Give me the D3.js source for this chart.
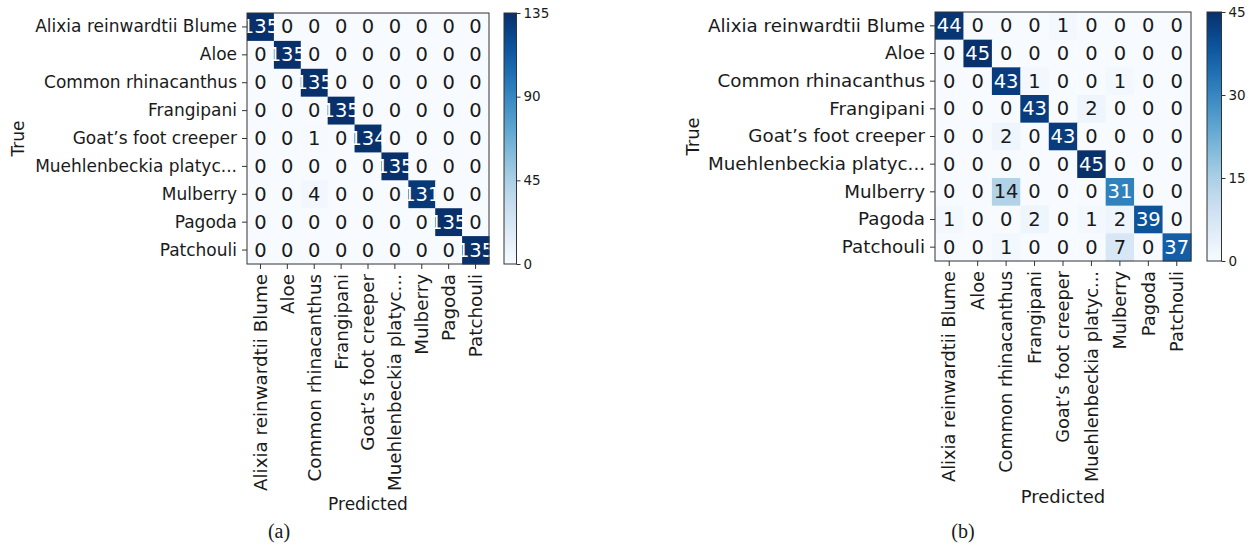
<!DOCTYPE html>
<html>
<head>
<meta charset="utf-8">
<script src="https://cdn.jsdelivr.net/npm/d3@7"></script>
<style>
  html, body { margin: 0; padding: 0; background: #ffffff; }
  svg { display: block; }
  text { font-family: "DejaVu Sans", sans-serif; fill: #1a1a1a; }
</style>
</head>
<body>
<svg id="chart" width="1249" height="544"></svg>
<script>
// Class names shown on both axes
const classLabels = [
  "Alixia reinwardtii Blume",
  "Aloe",
  "Common rhinacanthus",
  "Frangipani",
  "Goat\u2019s foot creeper",
  "Muehlenbeckia platyc...",
  "Mulberry",
  "Pagoda",
  "Patchouli"
];

// Confusion matrix (a): rows = true class, columns = predicted class
const matrixA = [
  [135, 0, 0, 0, 0, 0, 0, 0, 0],
  [0, 135, 0, 0, 0, 0, 0, 0, 0],
  [0, 0, 135, 0, 0, 0, 0, 0, 0],
  [0, 0, 0, 135, 0, 0, 0, 0, 0],
  [0, 0, 1, 0, 134, 0, 0, 0, 0],
  [0, 0, 0, 0, 0, 135, 0, 0, 0],
  [0, 0, 4, 0, 0, 0, 131, 0, 0],
  [0, 0, 0, 0, 0, 0, 0, 135, 0],
  [0, 0, 0, 0, 0, 0, 0, 0, 135]
];

// Confusion matrix (b)
const matrixB = [
  [44, 0, 0, 0, 1, 0, 0, 0, 0],
  [0, 45, 0, 0, 0, 0, 0, 0, 0],
  [0, 0, 43, 1, 0, 0, 1, 0, 0],
  [0, 0, 0, 43, 0, 2, 0, 0, 0],
  [0, 0, 2, 0, 43, 0, 0, 0, 0],
  [0, 0, 0, 0, 0, 45, 0, 0, 0],
  [0, 0, 14, 0, 0, 0, 31, 0, 0],
  [1, 0, 0, 2, 0, 1, 2, 39, 0],
  [0, 0, 1, 0, 0, 0, 7, 0, 37]
];

// Colour bar ranges and ticks
const maxA = 135;
const ticksA = [0, 45, 90, 135];
const maxB = 45;
const ticksB = [0, 15, 30, 45];

const xTitle = "Predicted";
const yTitle = "True";
const captions = ["(a)", "(b)"];

const svg = d3.select("#chart");
const axisColor = "#333333";

function drawPanel(cfg) {
  const g = svg.append("g");
  const n = classLabels.length;
  const idx = d3.range(n);

  const x = d3.scaleBand().domain(idx).range([cfg.left, cfg.right]).padding(0);
  const y = d3.scaleBand().domain(idx).range([cfg.top, cfg.bottom]).padding(0);
  const color = d3.scaleSequential(d3.interpolateBlues).domain([0, cfg.vmax]);

  const cells = [];
  cfg.matrix.forEach((row, r) => row.forEach((v, c) => cells.push({ r, c, v })));

  // Heatmap cells
  g.append("g").selectAll("rect").data(cells).join("rect")
    .attr("x", d => x(d.c))
    .attr("y", d => y(d.r))
    .attr("width", x.bandwidth() + 0.5)
    .attr("height", y.bandwidth() + 0.5)
    .attr("fill", d => color(d.v));

  // Cell counts (white on dark cells)
  g.append("g").selectAll("text").data(cells).join("text")
    .attr("x", d => x(d.c) + x.bandwidth() / 2)
    .attr("y", d => y(d.r) + y.bandwidth() / 2)
    .attr("text-anchor", "middle")
    .attr("dominant-baseline", "central")
    .style("font-size", cfg.cellFont + "px")
    .style("fill", d => d.v > cfg.vmax / 2 ? "#ffffff" : "#1a1a1a")
    .text(d => d.v);

  // Frame
  g.append("rect")
    .attr("x", cfg.left).attr("y", cfg.top)
    .attr("width", cfg.right - cfg.left).attr("height", cfg.bottom - cfg.top)
    .attr("fill", "none").attr("stroke", axisColor).attr("stroke-width", 1);

  // Y axis (true class)
  const yAxis = d3.axisLeft(y).tickSize(5).tickPadding(5).tickFormat(i => classLabels[i]);
  const ya = g.append("g").attr("transform", `translate(${cfg.left},0)`).call(yAxis);
  ya.select(".domain").remove();
  ya.selectAll(".tick line").attr("stroke", axisColor);
  ya.selectAll(".tick text").style("font-size", cfg.rowFont + "px").style("font-family", "DejaVu Sans").attr("fill", "#1a1a1a");

  // X axis (predicted class), rotated labels
  const xAxis = d3.axisBottom(x).tickSize(5).tickPadding(5).tickFormat(i => classLabels[i]);
  const xa = g.append("g").attr("transform", `translate(0,${cfg.bottom})`).call(xAxis);
  xa.select(".domain").remove();
  xa.selectAll(".tick line").attr("stroke", axisColor);
  xa.selectAll(".tick text")
    .style("font-size", cfg.colFont + "px").style("font-family", "DejaVu Sans").attr("fill", "#1a1a1a")
    .attr("transform", "rotate(-90)")
    .attr("text-anchor", "end")
    .attr("dy", "0.35em")
    .attr("x", -10)
    .attr("y", 0);

  // Axis titles
  g.append("text")
    .attr("x", (cfg.left + cfg.right) / 2)
    .attr("y", cfg.xTitleY)
    .attr("text-anchor", "middle")
    .style("font-size", cfg.titleFont + "px")
    .text(xTitle);
  g.append("text")
    .attr("transform", `translate(${cfg.yTitleX},${(cfg.top + cfg.bottom) / 2}) rotate(-90)`)
    .attr("text-anchor", "middle")
    .attr("dominant-baseline", "central")
    .style("font-size", cfg.titleFont + "px")
    .text(yTitle);

  // Colour bar
  const gradId = "grad-" + cfg.id;
  const grad = svg.append("defs").append("linearGradient")
    .attr("id", gradId).attr("x1", 0).attr("y1", 1).attr("x2", 0).attr("y2", 0);
  d3.range(0, 1.0001, 0.05).forEach(t => {
    grad.append("stop").attr("offset", t).attr("stop-color", color(t * cfg.vmax));
  });
  const cb = g.append("g");
  cb.append("rect")
    .attr("x", cfg.cbLeft).attr("y", cfg.top)
    .attr("width", cfg.cbWidth).attr("height", cfg.bottom - cfg.top)
    .attr("fill", `url(#${gradId})`)
    .attr("stroke", axisColor).attr("stroke-width", 1);
  const cy = d3.scaleLinear().domain([0, cfg.vmax]).range([cfg.bottom, cfg.top]);
  const cAxis = d3.axisRight(cy).tickValues(cfg.ticks).tickSize(4).tickPadding(3);
  const ca = cb.append("g").attr("transform", `translate(${cfg.cbLeft + cfg.cbWidth},0)`).call(cAxis);
  ca.select(".domain").remove();
  ca.selectAll(".tick line").attr("stroke", axisColor);
  ca.selectAll(".tick text").style("font-size", cfg.cbFont + "px").style("font-family", "DejaVu Sans").attr("fill", "#1a1a1a");

  // Caption below panel
  g.append("text")
    .attr("x", cfg.capX).attr("y", cfg.capY)
    .attr("text-anchor", "middle")
    .style("font-family", "Liberation Serif, Times New Roman, serif")
    .style("font-size", "20px")
    .text(cfg.caption);
}

drawPanel({
  id: "a", matrix: matrixA, vmax: maxA, ticks: ticksA,
  left: 247, right: 489, top: 13, bottom: 264,
  cbLeft: 504, cbWidth: 12.5,
  cellFont: 19.5, rowFont: 17, colFont: 18.3, titleFont: 17, cbFont: 13.5,
  xTitleY: 510, yTitleX: 18,
  capX: 279, capY: 538, caption: captions[0]
});

drawPanel({
  id: "b", matrix: matrixB, vmax: maxB, ticks: ticksB,
  left: 935, right: 1191, top: 12, bottom: 261,
  cbLeft: 1207, cbWidth: 14.5,
  cellFont: 19.5, rowFont: 18.3, colFont: 17.8, titleFont: 18, cbFont: 13.5,
  xTitleY: 503, yTitleX: 692,
  capX: 963, capY: 538, caption: captions[1]
});
</script>
</body>
</html>
